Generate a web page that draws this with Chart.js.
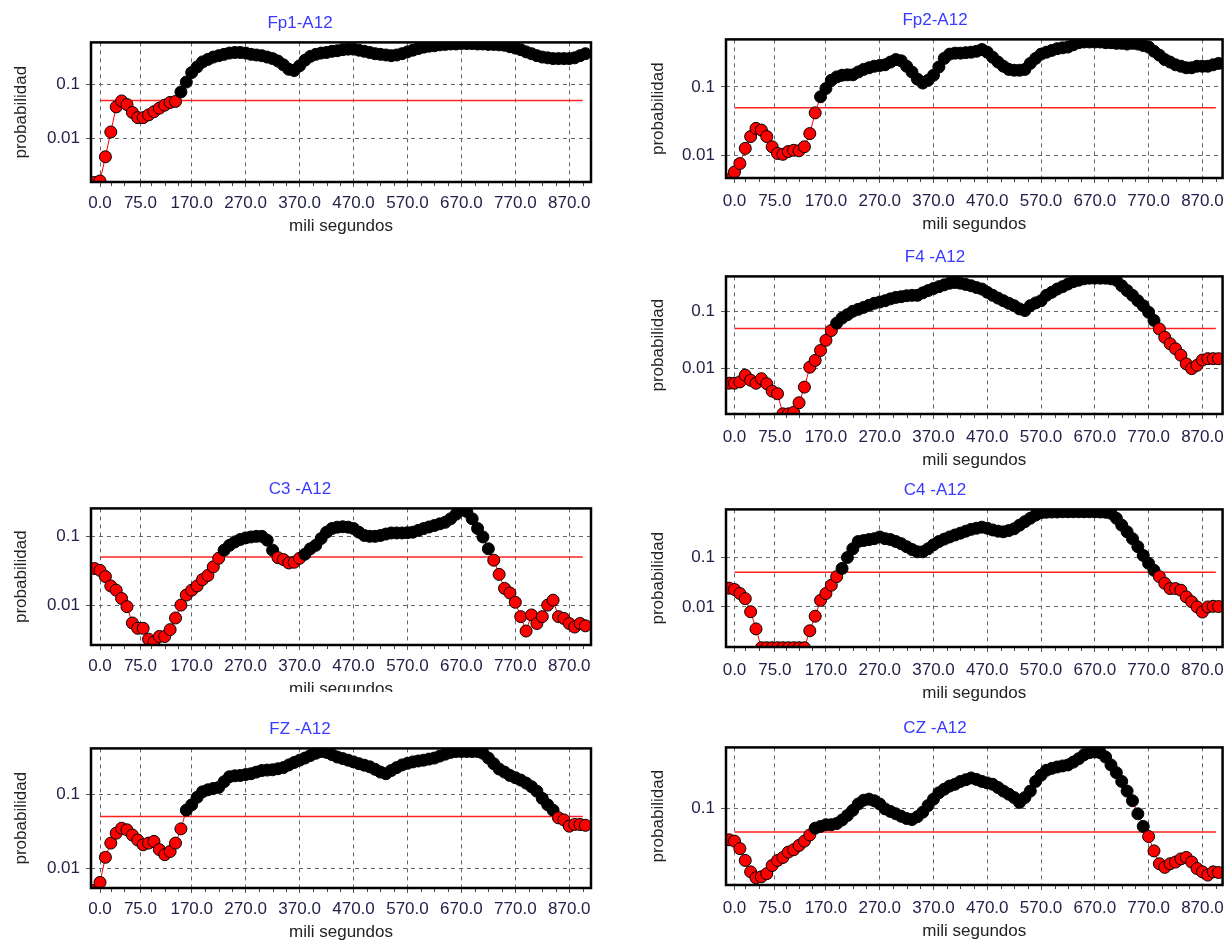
<!DOCTYPE html>
<html>
<head>
<meta charset="utf-8">
<script src="https://cdn.jsdelivr.net/npm/chart.js@4.4.1/dist/chart.umd.min.js"></script>
<style>
  html, body { margin: 0; background: #fff; }
  body { position: relative; width: 1229px; height: 942px; overflow: hidden; }
  .panel { position: absolute; overflow: hidden; }
  .panel canvas { display: block; }
</style>
</head>
<body>
<div class="panel" id="p-fp1"></div>
<div class="panel" id="p-fp2"></div>
<div class="panel" id="p-f4"></div>
<div class="panel" id="p-c3"></div>
<div class="panel" id="p-c4"></div>
<div class="panel" id="p-fz"></div>
<div class="panel" id="p-cz"></div>
<script>
// === Data ===
const channels = ['Fp1-A12', 'Fp2-A12', 'F4 -A12', 'C3 -A12', 'C4 -A12', 'FZ -A12', 'CZ -A12'];
const xTickValues = [0, 75, 170, 270, 370, 470, 570, 670, 770, 870];
const yTickValues = [0.001, 0.01, 0.1, 1];
const alpha = 0.05;
const alphaSpan = [0, 895];

const times = [
  -10, 0, 10, 20, 30, 40, 50, 60, 70, 80,
  90, 100, 110, 120, 130, 140, 150, 160, 170, 180,
  190, 200, 210, 220, 230, 240, 250, 260, 270, 280,
  290, 300, 310, 320, 330, 340, 350, 360, 370, 380,
  390, 400, 410, 420, 430, 440, 450, 460, 470, 480,
  490, 500, 510, 520, 530, 540, 550, 560, 570, 580,
  590, 600, 610, 620, 630, 640, 650, 660, 670, 680,
  690, 700, 710, 720, 730, 740, 750, 760, 770, 780,
  790, 800, 810, 820, 830, 840, 850, 860, 870, 880,
  890, 900
];

const fp1Values = [
  0.0015, 0.0016, 0.0045, 0.013, 0.038, 0.049, 0.042, 0.030, 0.024, 0.024,
  0.027, 0.031, 0.036, 0.041, 0.046, 0.048, 0.072, 0.11, 0.165, 0.21,
  0.26, 0.29, 0.32, 0.34, 0.36, 0.38, 0.39, 0.39, 0.38, 0.36,
  0.35, 0.34, 0.32, 0.30, 0.27, 0.23, 0.19, 0.18, 0.22, 0.28,
  0.33, 0.36, 0.38, 0.39, 0.41, 0.42, 0.44, 0.45, 0.45, 0.43,
  0.41, 0.39, 0.37, 0.36, 0.35, 0.34, 0.35, 0.37, 0.40, 0.43,
  0.46, 0.49, 0.51, 0.52, 0.54, 0.55, 0.56, 0.56, 0.57, 0.57,
  0.57, 0.56, 0.56, 0.55, 0.55, 0.54, 0.53, 0.50, 0.47, 0.44,
  0.40, 0.37, 0.34, 0.32, 0.31, 0.30, 0.30, 0.30, 0.30, 0.31,
  0.34, 0.37
];

const fp2Values = [
  0.0045, 0.0058, 0.0077, 0.0128, 0.019, 0.025, 0.0236, 0.019, 0.0135, 0.0108,
  0.0105, 0.0115, 0.012, 0.0118, 0.0135, 0.021, 0.042, 0.072, 0.095, 0.125,
  0.14, 0.148, 0.15, 0.15, 0.165, 0.18, 0.19, 0.20, 0.205, 0.21,
  0.23, 0.25, 0.24, 0.20, 0.165, 0.13, 0.114, 0.125, 0.148, 0.195,
  0.26, 0.30, 0.31, 0.31, 0.315, 0.32, 0.33, 0.35, 0.32, 0.27,
  0.23, 0.20, 0.18, 0.175, 0.175, 0.18, 0.22, 0.26, 0.30, 0.32,
  0.34, 0.36, 0.37, 0.38, 0.41, 0.44, 0.45, 0.45, 0.45, 0.45,
  0.44, 0.44, 0.43, 0.43, 0.42, 0.43, 0.42, 0.40, 0.38, 0.33,
  0.29, 0.25, 0.23, 0.21, 0.20, 0.19, 0.19, 0.20, 0.20, 0.20,
  0.21, 0.22
];

const f4Values = [
  0.0055, 0.0055, 0.0058, 0.0076, 0.0062, 0.0055, 0.0066, 0.0054, 0.004, 0.0036,
  0.0016, 0.0016, 0.0017, 0.0025, 0.0047, 0.0105, 0.0138, 0.0206, 0.031, 0.046,
  0.062, 0.076, 0.087, 0.10, 0.108, 0.117, 0.127, 0.138, 0.145, 0.153,
  0.165, 0.175, 0.18, 0.187, 0.19, 0.19, 0.21, 0.23, 0.25, 0.27,
  0.29, 0.31, 0.32, 0.31, 0.295, 0.28, 0.26, 0.245, 0.215, 0.19,
  0.17, 0.153, 0.138, 0.125, 0.11, 0.103, 0.125, 0.14, 0.153, 0.19,
  0.215, 0.245, 0.27, 0.30, 0.33, 0.35, 0.37, 0.38, 0.38, 0.38,
  0.38, 0.37, 0.35, 0.28, 0.23, 0.19, 0.153, 0.125, 0.096, 0.069,
  0.049, 0.035, 0.027, 0.022, 0.017, 0.012, 0.0099, 0.0113, 0.014, 0.0148,
  0.0148, 0.0148
];

const c3Values = [
  0.034, 0.032, 0.026, 0.019, 0.0165, 0.0125, 0.0095, 0.0055, 0.0046, 0.0046,
  0.0032, 0.0029, 0.0035, 0.0035, 0.0044, 0.0065, 0.010, 0.014, 0.0165, 0.019,
  0.0235, 0.027, 0.036, 0.048, 0.063, 0.074, 0.083, 0.09, 0.095, 0.098,
  0.10, 0.10, 0.088, 0.063, 0.049, 0.046, 0.041, 0.042, 0.048, 0.055,
  0.066, 0.074, 0.093, 0.115, 0.13, 0.136, 0.138, 0.136, 0.13, 0.115,
  0.103, 0.10, 0.10, 0.103, 0.108, 0.112, 0.112, 0.112, 0.113, 0.115,
  0.122, 0.13, 0.137, 0.144, 0.152, 0.16, 0.18, 0.21, 0.24, 0.23,
  0.18, 0.13, 0.098, 0.066, 0.045, 0.028, 0.0175, 0.015, 0.011, 0.0068,
  0.0042, 0.0072, 0.0054, 0.0068, 0.010, 0.0118, 0.0068, 0.0064, 0.0054, 0.0048,
  0.0054, 0.005
];

const c4Values = [
  0.024, 0.0225, 0.0187, 0.0147, 0.008, 0.0036, 0.0015, 0.0015, 0.0015, 0.0015,
  0.0015, 0.0015, 0.0015, 0.0015, 0.0015, 0.0033, 0.0065, 0.0136, 0.0187, 0.0275,
  0.041, 0.06, 0.10, 0.15, 0.21, 0.22, 0.23, 0.24, 0.26, 0.24,
  0.23, 0.21, 0.19, 0.165, 0.145, 0.13, 0.13, 0.15, 0.18, 0.21,
  0.235, 0.26, 0.285, 0.31, 0.34, 0.37, 0.39, 0.41, 0.39, 0.36,
  0.34, 0.33, 0.35, 0.38, 0.45, 0.53, 0.62, 0.72, 0.80, 0.82,
  0.83, 0.83, 0.84, 0.84, 0.84, 0.84, 0.84, 0.84, 0.84, 0.83,
  0.82, 0.78, 0.62, 0.45, 0.33, 0.24, 0.165, 0.11, 0.076, 0.055,
  0.041, 0.03, 0.0235, 0.0235, 0.0218, 0.016, 0.0127, 0.010, 0.0079, 0.010,
  0.0103, 0.0102
];

const fzValues = [
  0.005, 0.0064, 0.014, 0.0218, 0.0297, 0.0347, 0.033, 0.028, 0.024, 0.0207,
  0.0218, 0.023, 0.0178, 0.0152, 0.0168, 0.0218, 0.034, 0.061, 0.072, 0.091,
  0.108, 0.115, 0.12, 0.124, 0.148, 0.173, 0.178, 0.18, 0.185, 0.19,
  0.20, 0.21, 0.213, 0.215, 0.222, 0.23, 0.25, 0.27, 0.29, 0.31,
  0.335, 0.36, 0.38, 0.37, 0.345, 0.32, 0.305, 0.29, 0.275, 0.26,
  0.248, 0.236, 0.218, 0.20, 0.19, 0.21, 0.23, 0.25, 0.263, 0.275,
  0.283, 0.29, 0.30, 0.31, 0.33, 0.35, 0.37, 0.38, 0.38, 0.38,
  0.38, 0.38, 0.36, 0.31, 0.26, 0.22, 0.20, 0.18, 0.168, 0.156,
  0.142, 0.127, 0.11, 0.088, 0.072, 0.061, 0.048, 0.045, 0.037, 0.039,
  0.039, 0.038
];

const czValues = [
  0.040, 0.0385, 0.031, 0.022, 0.0158, 0.0133, 0.0137, 0.015, 0.019, 0.022,
  0.024, 0.028, 0.030, 0.034, 0.0385, 0.046, 0.056, 0.059, 0.062, 0.062,
  0.064, 0.071, 0.081, 0.094, 0.113, 0.126, 0.13, 0.124, 0.113, 0.098,
  0.091, 0.085, 0.079, 0.074, 0.072, 0.078, 0.089, 0.108, 0.13, 0.156,
  0.173, 0.19, 0.20, 0.217, 0.228, 0.24, 0.23, 0.217, 0.208, 0.20,
  0.182, 0.164, 0.15, 0.136, 0.118, 0.136, 0.164, 0.217, 0.26, 0.30,
  0.317, 0.33, 0.34, 0.35, 0.38, 0.42, 0.47, 0.50, 0.51, 0.50,
  0.44, 0.35, 0.28, 0.217, 0.164, 0.124, 0.085, 0.059, 0.044, 0.029,
  0.02, 0.018, 0.02, 0.021, 0.023, 0.024, 0.021, 0.0174, 0.0158, 0.0144,
  0.0158, 0.0155
];

// === Layout ===
const columns = {
  left:  { canvasLeft: 9,   areaRight: 591,  padRight: 9, yAxisWidth: 82, xMin: -16.7, xMax: 910.3, tickPad: 6, xTitlePad: 3 },
  right: { canvasLeft: 646, areaRight: 1224, padRight: 8, yAxisWidth: 80, xMin: -15.8, xMax: 907.5, tickPad: 8, xTitlePad: 1 }
};

const panels = [
  { id: 'fp1', title: channels[0], values: fp1Values, col: 'left',  boxTop: 42,    boxBottom: 182,   yMin: 0.00153, yMax: 0.600 },
  { id: 'fp2', title: channels[1], values: fp2Values, col: 'right', boxTop: 39,    boxBottom: 178,   yMin: 0.00475, yMax: 0.491 },
  { id: 'f4',  title: channels[2], values: f4Values,  col: 'right', boxTop: 276,   boxBottom: 414,   yMin: 0.00159, yMax: 0.408 },
  { id: 'c3',  title: channels[3], values: c3Values,  col: 'left',  boxTop: 508,   boxBottom: 645,   yMin: 0.00263, yMax: 0.255, clipAt: 692 },
  { id: 'c4',  title: channels[4], values: c4Values,  col: 'right', boxTop: 509.3, boxBottom: 646.7, yMin: 0.00155, yMax: 0.937 },
  { id: 'fz',  title: channels[5], values: fzValues,  col: 'left',  boxTop: 748,   boxBottom: 888,   yMin: 0.00537, yMax: 0.419 },
  { id: 'cz',  title: channels[6], values: czValues,  col: 'right', boxTop: 747,   boxBottom: 885,   yMin: 0.0108,  yMax: 0.582 }
];

const titleBlock = 31.4;   // title padding 2 + line 20.4 + 9
const xAxisBlock = 58;
const tickColor = '#22224a';
const gridColor = '#666';

Chart.defaults.font.family = "'Liberation Sans', Arial, sans-serif";

// frame round the plot area and the small ticks under it
const frame = {
  id: 'frame',
  afterDraw(chart) {
    const { ctx, chartArea: a } = chart;
    const x = chart.scales.x;
    ctx.save();
    ctx.strokeStyle = '#444';
    ctx.lineWidth = 1;
    for (let v = -5; v <= 905; v += 25) {
      if (xTickValues.some(t => Math.abs(t - v) < 8)) continue;
      const px = Math.round(x.getPixelForValue(v)) + 0.5;
      if (px < a.left || px > a.right) continue;
      ctx.beginPath();
      ctx.moveTo(px, a.bottom);
      ctx.lineTo(px, a.bottom + 4);
      ctx.stroke();
    }
    ctx.strokeStyle = '#000';
    ctx.lineWidth = 2.5;
    ctx.strokeRect(a.left, a.top, a.right - a.left, a.bottom - a.top);
    ctx.restore();
  }
};

function makeChart(p) {
  const col = columns[p.col];
  const top = Math.round(p.boxTop - titleBlock);
  const height = Math.round(p.boxBottom + xAxisBlock) - top;
  const width = col.areaRight + col.padRight - col.canvasLeft;
  const wrap = document.getElementById('p-' + p.id);
  wrap.style.left = col.canvasLeft + 'px';
  wrap.style.top = top + 'px';
  wrap.style.width = width + 'px';
  wrap.style.height = ((p.clipAt || top + height) - top) + 'px';
  const canvas = document.createElement('canvas');
  canvas.width = width;
  canvas.height = height;
  wrap.appendChild(canvas);

  const grid = { color: gridColor, lineWidth: 1, tickLength: 5, tickColor: '#555', tickWidth: 1 };

  new Chart(canvas, {
    type: 'line',
    data: {
      datasets: [
        {
          data: times.map((t, i) => ({ x: t, y: p.values[i] })),
          borderColor: '#ff0000',
          borderWidth: 1,
          tension: 0,
          pointStyle: 'circle',
          pointRadius: 6,
          pointHoverRadius: 6,
          pointBorderColor: '#000',
          pointBorderWidth: 1,
          pointBackgroundColor: c => (c.raw && c.raw.y < alpha) ? '#ff0000' : '#000000',
          order: 0
        },
        {
          data: alphaSpan.map(x => ({ x, y: alpha })),
          borderColor: '#ff2020',
          borderWidth: 1.5,
          pointRadius: 0,
          order: 1
        }
      ]
    },
    options: {
      responsive: false,
      animation: false,
      events: [],
      layout: { padding: { left: 0, right: col.padRight, top: 0, bottom: 0 } },
      plugins: {
        legend: { display: false },
        tooltip: { enabled: false },
        title: {
          display: true,
          text: p.title,
          color: '#3a3aff',
          font: { size: 17, weight: 'normal' },
          padding: { top: 2, bottom: 9 }
        }
      },
      scales: {
        x: {
          type: 'linear',
          min: col.xMin,
          max: col.xMax,
          afterBuildTicks: s => { s.ticks = xTickValues.map(v => ({ value: v })); },
          afterFit: s => { s.height = xAxisBlock; },
          ticks: {
            autoSkip: false, maxRotation: 0, minRotation: 0,
            padding: col.tickPad, color: tickColor, font: { size: 17 },
            callback: v => Number(v).toFixed(1)
          },
          grid: grid,
          border: { display: false, dash: [4, 4] },
          title: {
            display: true, text: 'mili segundos', color: '#222',
            font: { size: 17 }, padding: { top: 0, bottom: col.xTitlePad }
          }
        },
        y: {
          type: 'logarithmic',
          min: p.yMin,
          max: p.yMax,
          afterBuildTicks: s => {
            s.ticks = yTickValues.filter(v => v >= s.min && v <= s.max).map(v => ({ value: v }));
          },
          afterFit: s => { s.width = col.yAxisWidth; },
          ticks: { padding: 6, color: tickColor, font: { size: 17 }, callback: v => String(v) },
          grid: grid,
          border: { display: false, dash: [4, 4] },
          title: {
            display: true, text: 'probabilidad', color: '#222',
            font: { size: 17 }, padding: { top: 2, bottom: 0 }
          }
        }
      }
    },
    plugins: [frame]
  });
}

panels.forEach(makeChart);
</script>
</body>
</html>
